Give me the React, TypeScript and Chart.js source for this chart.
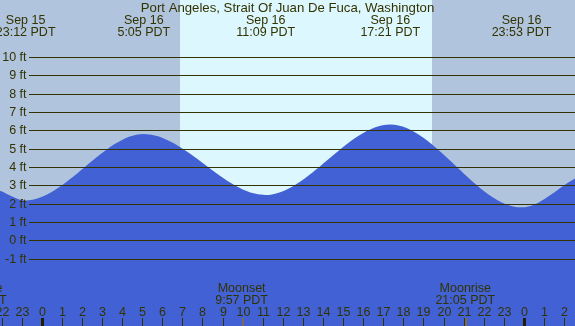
import React, { useEffect, useRef } from "react";
import { Chart, registerables } from "chart.js";

Chart.register(...registerables);

const TITLE = "Port Angeles, Strait Of Juan De Fuca, Washington";

// Time axis: hours relative to Sep 16 00:00 PDT
const X_MIN = -2.076;
const X_MAX = 26.545;
const Y_MIN = -4.67;
const Y_MAX = 13.11;

// Tide curve (hours, feet): edges + extremes
const tideHours = [-2.076, -0.8, 5.083, 11.15, 17.35, 23.883, 26.545];
const tideFeet = [2.71, 2.18, 5.8, 2.47, 6.32, 1.8, 3.38];

// Extreme labels
const extremeHours = [-0.8, 5.083, 11.15, 17.35, 23.883];
const extremeDates = ["Sep 15", "Sep 16", "Sep 16", "Sep 16", "Sep 16"];
const extremeTimes = ["23:12 PDT", "5:05 PDT", "11:09 PDT", "17:21 PDT", "23:53 PDT"];

// Feet gridlines
const feetTicks = [-1, 0, 1, 2, 3, 4, 5, 6, 7, 8, 9, 10];
const feetLabels = ["-1 ft", "0 ft", "1 ft", "2 ft", "3 ft", "4 ft", "5 ft", "6 ft", "7 ft", "8 ft", "9 ft", "10 ft"];

// Hour ticks along bottom
const hourValues = [-2, -1, 0, 1, 2, 3, 4, 5, 6, 7, 8, 9, 10, 11, 12, 13, 14, 15, 16, 17, 18, 19, 20, 21, 22, 23, 24, 25, 26];
const hourLabels = ["22", "23", "0", "1", "2", "3", "4", "5", "6", "7", "8", "9", "10", "11", "12", "13", "14", "15", "16", "17", "18", "19", "20", "21", "22", "23", "0", "1", "2"];
const midnightHours = [0, 24];

// Daylight
const sunriseHour = 6.88;
const sunsetHour = 19.42;

// Moon events
const moonHours = [-3.23, 9.95, 21.083];
const moonNames = ["Moonrise", "Moonset", "Moonrise"];
const moonTimes = ["20:46 PDT", "9:57 PDT", "21:05 PDT"];

const NIGHT = "#b0c4de";
const DAY = "#ddf7ff";
const WATER = "#4161d5";
const INK = "#333300";
const FONT = '12.5px "Liberation Sans", Arial, sans-serif';
const TITLE_FONT = '13.2px "Liberation Sans", Arial, sans-serif';

const decorPlugin = {
  id: "tideDecor",
  beforeDatasetsDraw(chart: any) {
    const { ctx, chartArea, scales } = chart;
    const { left, right, top, bottom } = chartArea;
    const x = scales.x;
    ctx.save();
    ctx.fillStyle = NIGHT;
    ctx.fillRect(left, top, right - left, bottom - top);
    const sx = Math.round(x.getPixelForValue(sunriseHour));
    const ex = Math.round(x.getPixelForValue(sunsetHour));
    ctx.fillStyle = DAY;
    ctx.fillRect(sx, top, ex - sx, bottom - top);
    ctx.restore();
  },
  afterDatasetsDraw(chart: any) {
    const { ctx, chartArea, scales } = chart;
    const { right, bottom } = chartArea;
    const x = scales.x;
    const y = scales.y;
    ctx.save();
    ctx.font = FONT;
    ctx.fillStyle = INK;
    ctx.strokeStyle = INK;

    // gridlines + feet labels
    ctx.lineWidth = 1;
    feetTicks.forEach((v, i) => {
      const py = Math.round(y.getPixelForValue(v)) + 0.5;
      ctx.beginPath();
      ctx.moveTo(29, py);
      ctx.lineTo(right, py);
      ctx.stroke();
      ctx.textAlign = "right";
      ctx.textBaseline = "middle";
      ctx.fillText(feetLabels[i], 26.5, py);
    });

    // title
    ctx.textAlign = "center";
    ctx.textBaseline = "alphabetic";
    ctx.font = TITLE_FONT;
    ctx.fillText(TITLE, chart.width / 2, 12);
    ctx.font = FONT;

    // extremes
    extremeHours.forEach((h, i) => {
      const px = x.getPixelForValue(h);
      ctx.fillText(extremeDates[i], px, 24);
      ctx.fillText(extremeTimes[i], px, 36);
    });

    // hour ticks + labels
    hourValues.forEach((h, i) => {
      const px = Math.round(x.getPixelForValue(h));
      ctx.fillText(hourLabels[i], px + 0.5, 316);
      ctx.fillRect(px, 318, 1, bottom - 318);
    });
    midnightHours.forEach((h) => {
      const px = Math.round(x.getPixelForValue(h));
      ctx.fillStyle = "#221f00";
      ctx.fillRect(px - 1, 318, 3, bottom - 318);
    });

    // moon events
    moonHours.forEach((h, i) => {
      const px = x.getPixelForValue(h);
      ctx.fillStyle = INK;
      ctx.fillText(moonNames[i], px, 292);
      ctx.fillText(moonTimes[i], px, 304);
      ctx.fillStyle = "#7d6a55";
      ctx.fillRect(Math.round(px), 318, 2, bottom - 318);
    });

    ctx.restore();
  },
};

export default function App() {
  const ref = useRef<HTMLCanvasElement | null>(null);
  useEffect(() => {
    if (!ref.current) return;
    const chart = new Chart(ref.current, {
      type: "line",
      data: {
        datasets: [
          {
            data: tideHours.map((h, i) => ({ x: h, y: tideFeet[i] })),
            backgroundColor: WATER,
            borderColor: WATER,
            borderWidth: 0,
            pointRadius: 0,
            fill: "start",
            cubicInterpolationMode: "monotone",
          },
        ],
      },
      options: {
        animation: false,
        responsive: false,
        devicePixelRatio: 1,
        layout: { padding: 0 },
        plugins: { legend: { display: false }, tooltip: { enabled: false }, title: { display: false } },
        scales: {
          x: { type: "linear", min: X_MIN, max: X_MAX, display: false },
          y: { type: "linear", min: Y_MIN, max: Y_MAX, display: false },
        },
      },
      plugins: [decorPlugin],
    });
    return () => chart.destroy();
  }, []);
  return (
    <div style={{ position: "fixed", left: 0, top: 0, width: 575, height: 326 }}>
      <canvas ref={ref} width={575} height={326} style={{ display: "block" }} />
    </div>
  );
}
